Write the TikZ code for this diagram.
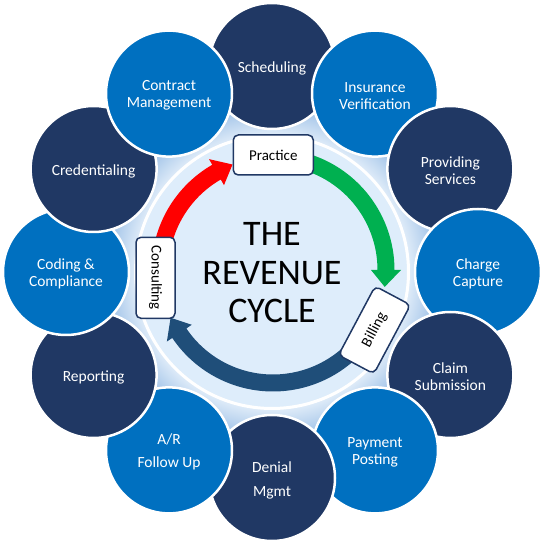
\documentclass[tikz,border=0pt]{standalone}
\usepackage{fontspec}
\setmainfont{Carlito}
\definecolor{navy}{HTML}{203864}
\definecolor{cblue}{HTML}{0070C0}
\definecolor{arrblue}{HTML}{1F4E79}
\definecolor{arrgreen}{HTML}{00B050}
\definecolor{arrred}{HTML}{FF0000}
\definecolor{disk}{HTML}{DEEDFB}
\definecolor{glowin}{HTML}{E4EFFA}
\definecolor{glowout}{HTML}{9EC1E7}
\pgfdeclareradialshading{glowshade}{\pgfpoint{0bp}{0bp}}{color(0bp)=(glowin); color(20bp)=(glowin); color(25bp)=(glowout); color(50bp)=(glowout)}
\newcommand\cyclearrow[4]{%
  \fill[#1] ([shift={(#2:121.5)}]C) arc[start angle=#2, end angle=#3, radius=121.5]
    -- ([shift={(#3:128)}]C) -- ([shift={(#4:113)}]C) -- ([shift={(#3:98)}]C)
    -- ([shift={(#3:104.5)}]C) arc[start angle=#3, end angle=#2, radius=104.5] -- cycle;}
\begin{document}
\begin{tikzpicture}[x=1pt,y=1pt,
  stage/.style={circle, draw=white, line width=2.5pt, minimum size=126pt, inner sep=0pt},
  darkstage/.style={stage, fill=navy},
  bluestage/.style={stage, fill=cblue},
  stagetext/.style={text=white, align=center, inner sep=0pt, font=\fontsize{15.5}{17}\selectfont},
  tag/.style={draw=navy, line width=1.5pt, fill=white, rounded corners=5pt, inner sep=0pt,
    font=\fontsize{15}{17}\selectfont, text=black}
]
\useasboundingbox (0,0) rectangle (547,547);
\coordinate (O) at (272,275);
\coordinate (C) at (273,277);
\shade[shading=glowshade] (O) circle[radius=168];

\node[darkstage] (sched) at ([shift={(90:206)}]O) {};
\node[bluestage] (insur) at ([shift={(60:206)}]O) {};
\node[darkstage] (prov) at ([shift={(30:206)}]O) {};
\node[bluestage] (charge) at ([shift={(0:206)}]O) {};
\node[darkstage] (claim) at ([shift={(-30:206)}]O) {};
\node[bluestage] (pay) at ([shift={(-60:206)}]O) {};
\node[darkstage] (denial) at ([shift={(-90:206)}]O) {};
\node[bluestage] (ar) at ([shift={(-120:206)}]O) {};
\node[darkstage] (report) at ([shift={(-150:206)}]O) {};
\node[bluestage] (coding) at ([shift={(180:206)}]O) {};
\node[darkstage] (cred) at ([shift={(150:206)}]O) {};
\node[bluestage] (contract) at ([shift={(120:206)}]O) {};

\node[stagetext] (tsched) at ([yshift=-2]sched.center) {Scheduling};
\node[stagetext] (tinsur) at ([yshift=-2]insur.center) {Insurance\\Verification};
\node[stagetext] (tprov) at ([yshift=-2]prov.center) {Providing\\Services};
\node[stagetext] (tcharge) at ([yshift=-2]charge.center) {Charge\\Capture};
\node[stagetext] (tclaim) at ([yshift=-2]claim.center) {Claim\\Submission};
\node[stagetext] (tpay) at ([yshift=-2]pay.center) {Payment\\Posting};
\node[stagetext] (tdenial) at ([yshift=-2]denial.center) {Denial\\[7pt]Mgmt};
\node[stagetext] (tar) at ([yshift=-1]ar.center) {A/R\\[6pt]Follow Up};
\node[stagetext] (treport) at ([yshift=-2]report.center) {Reporting};
\node[stagetext] (tcoding) at ([yshift=-2]coding.center) {Coding \&\\Compliance};
\node[stagetext] (tcred) at ([yshift=-2]cred.center) {Credentialing};
\node[stagetext] (tcontract) at ([yshift=-2]contract.center) {Contract\\Management};

\fill[disk] (O) circle[radius=135];
\draw[white, line width=3pt] (O) circle[radius=136.5];

\cyclearrow{arrred}{168}{120}{111}
\cyclearrow{arrgreen}{80}{0}{-8.6}
\cyclearrow{arrblue}{-35}{-146}{-155}

\node[tag, minimum width=80pt, minimum height=40pt] (practice) at (273.3,392) {Practice};
\node[tag, minimum width=81pt, minimum height=39pt, rotate=-90] (consult) at (155.5,269.2) {Consulting};
\node[tag, minimum width=78pt, minimum height=40pt, rotate=62] (billing) at (374.5,217) {Billing};

\node[font=\fontsize{36}{38.5}\selectfont, align=center] (title) at (272,274) {THE\\REVENUE\\CYCLE};
\end{tikzpicture}
\end{document}
